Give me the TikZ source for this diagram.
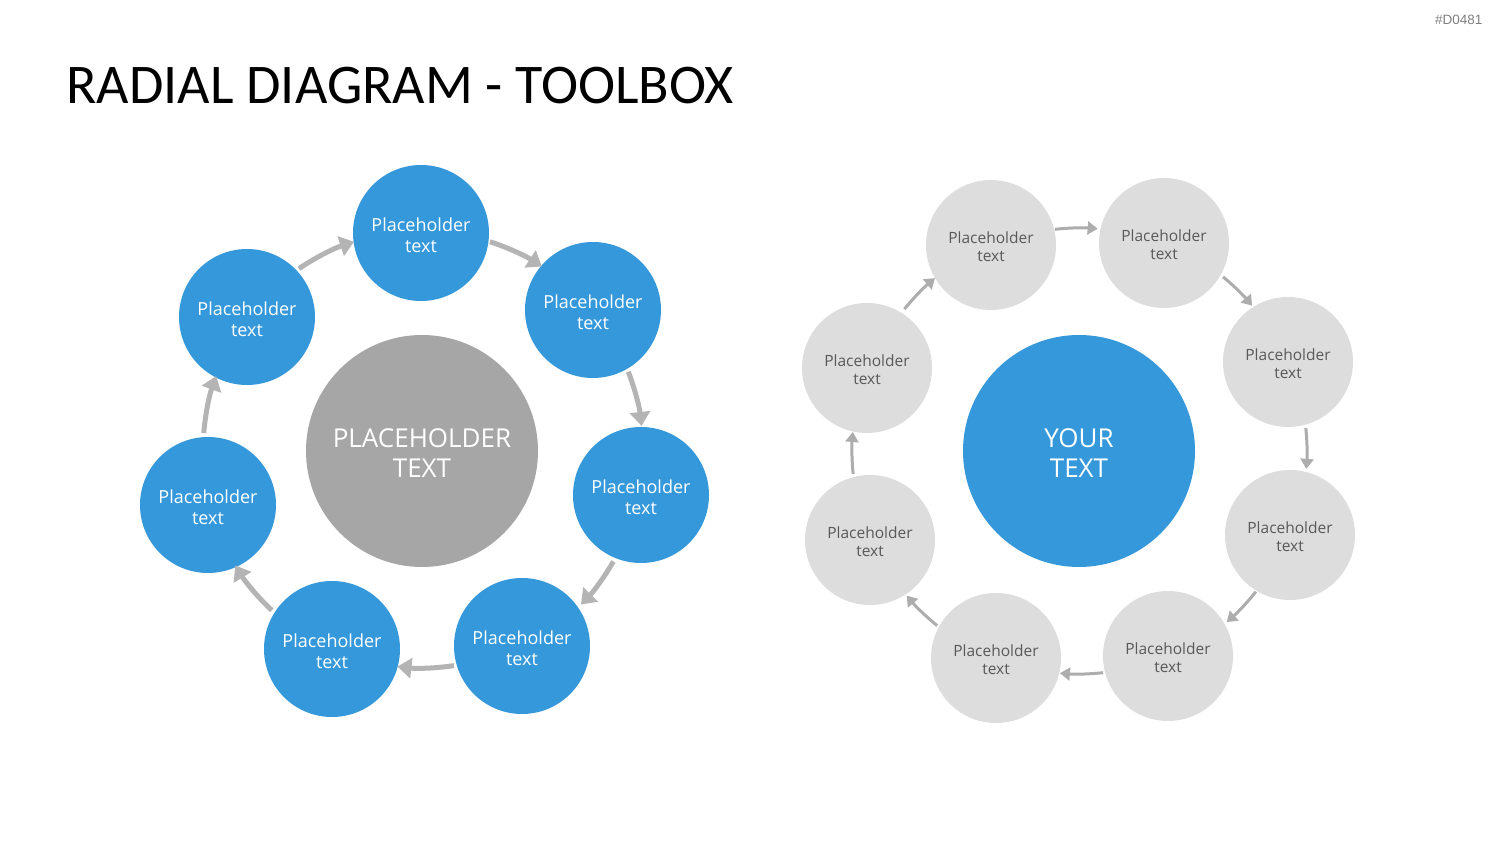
\documentclass[tikz,border=0pt]{standalone}
\usepackage{fontspec}
\setmainfont{Open Sans}
\newfontfamily\titlefont{Carlito}
\newfontfamily\tagfont{Liberation Sans}
\usetikzlibrary{arrows.meta}
\definecolor{blueC}{RGB}{52,152,219}
\definecolor{grayBig}{RGB}{166,166,166}
\definecolor{grayLight}{RGB}{221,221,221}
\definecolor{arrowL}{RGB}{180,180,180}
\definecolor{arrowR}{RGB}{173,173,173}
\definecolor{textDark}{RGB}{89,89,89}
\newcommand\mystrut[1]{\rule{0pt}{#1}}
\tikzset{
  bluenode/.style={circle,fill=blueC,minimum size=136pt,inner sep=0pt,text=white,align=center,font=\fontsize{18}{21}\selectfont},
  graynode/.style={circle,fill=grayLight,minimum size=130pt,inner sep=0pt,text=textDark,align=center,font=\fontsize{15.5}{18}\selectfont},
  bignode/.style={circle,minimum size=232pt,inner sep=0pt,text=white,align=center,font=\fontsize{26}{30}\selectfont},
  bigarrow/.style={draw=arrowL,line width=5pt,-{Triangle[length=14pt,width=20pt]}},
  smallarrow/.style={draw=arrowR,line width=3pt,-{Triangle[length=10pt,width=13pt]}}
}
\begin{document}
\begin{tikzpicture}[x=1pt,y=1pt]
\useasboundingbox (0,0) rectangle (1500,844);
\fill[white] (0,0) rectangle (1500,844);
\node[anchor=base west,font=\titlefont\fontsize{56}{60}\selectfont] (title) at (63,740) {RADIAL DIAGRAM - TOOLBOX};
\node[anchor=base east,font=\tagfont\fontsize{13.5}{15}\selectfont,text=gray] (tag) at (1486,819) {\#D0481};
% left diagram
\node[bignode,fill=grayBig] (cL) at (422,393) {\mystrut{23pt}PLACEHOLDER\\TEXT};
\node[bluenode] (L1) at (421,611) {\mystrut{19pt}Placeholder\\text};
\node[bluenode] (L2) at (593,534) {\mystrut{19pt}Placeholder\\text};
\node[bluenode] (L3) at (641,349) {\mystrut{19pt}Placeholder\\text};
\node[bluenode] (L4) at (522,198) {\mystrut{19pt}Placeholder\\text};
\node[bluenode] (L5) at (332,195) {\mystrut{19pt}Placeholder\\text};
\node[bluenode] (L6) at (208,339) {\mystrut{19pt}Placeholder\\text};
\node[bluenode] (L7) at (247,527) {\mystrut{19pt}Placeholder\\text};
\draw[bigarrow] (cL.center) ++(124:220pt) arc[start angle=124,end angle=108,radius=220pt];
\draw[bigarrow] (cL.center) ++(72:220pt) arc[start angle=72,end angle=57,radius=220pt];
\draw[bigarrow] (cL.center) ++(21:221pt) arc[start angle=21,end angle=6.5,radius=221pt];
\draw[bigarrow] (cL.center) ++(-30:221pt) arc[start angle=-30,end angle=-44,radius=221pt];
\draw[bigarrow] (cL.center) ++(-81.5:217pt) arc[start angle=-81.5,end angle=-96.5,radius=217pt];
\draw[bigarrow] (cL.center) ++(-133.3:219pt) arc[start angle=-133.3,end angle=-148.5,radius=219pt];
\draw[bigarrow] (cL.center) ++(175.3:219pt) arc[start angle=175.3,end angle=160,radius=219pt];
% right diagram
\node[bignode,fill=blueC] (cR) at (1079,393) {\mystrut{23pt}YOUR\\TEXT};
\node[graynode] (R1) at (991,599) {\mystrut{16pt}Placeholder\\text};
\node[graynode] (R2) at (1164,601) {\mystrut{16pt}Placeholder\\text};
\node[graynode] (R3) at (1288,482) {\mystrut{16pt}Placeholder\\text};
\node[graynode] (R4) at (1290,309) {\mystrut{16pt}Placeholder\\text};
\node[graynode] (R5) at (1168,188) {\mystrut{16pt}Placeholder\\text};
\node[graynode] (R6) at (996,186) {\mystrut{16pt}Placeholder\\text};
\node[graynode] (R7) at (870,304) {\mystrut{16pt}Placeholder\\text};
\node[graynode] (R8) at (867,476) {\mystrut{16pt}Placeholder\\text};
\draw[smallarrow] (cR.center) ++(96.2:223pt) arc[start angle=96.2,end angle=85.2,radius=223pt];
\draw[smallarrow] (cR.center) ++(50.4:226pt) arc[start angle=50.4,end angle=40,radius=226pt];
\draw[smallarrow] (cR.center) ++(5.8:228pt) arc[start angle=5.8,end angle=-4.5,radius=228pt];
\draw[smallarrow] (cR.center) ++(-38.5:226pt) arc[start angle=-38.5,end angle=-49.2,radius=226pt];
\draw[smallarrow] (cR.center) ++(-83.8:223pt) arc[start angle=-83.8,end angle=-94.9,radius=223pt];
\draw[smallarrow] (cR.center) ++(-129.1:225pt) arc[start angle=-129.1,end angle=-140,radius=225pt];
\draw[smallarrow] (cR.center) ++(185.8:227pt) arc[start angle=185.8,end angle=175.2,radius=227pt];
\draw[smallarrow] (cR.center) ++(140.9:225pt) arc[start angle=140.9,end angle=129.8,radius=225pt];
\end{tikzpicture}
\end{document}
